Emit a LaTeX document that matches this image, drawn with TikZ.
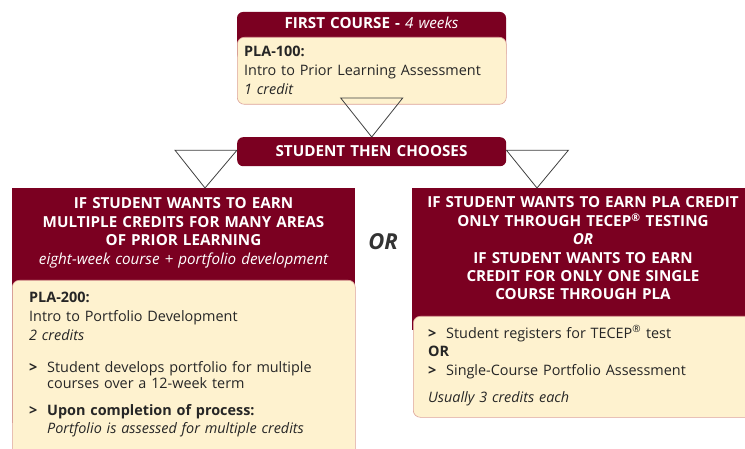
\documentclass[tikz,border=0pt]{standalone}
\usepackage{fontspec}
\setmainfont{Open Sans}
\usetikzlibrary{calc}
\usetikzlibrary{positioning}
\definecolor{maroon}{HTML}{7B0021}
\definecolor{cream}{HTML}{FEF2CF}
\definecolor{rosy}{HTML}{DDA39A}
\tikzset{
  headtext/.style={text=white, font=\fontsize{15.2}{18.4}\selectfont\bfseries, align=center, inner sep=0pt, text width=340pt, anchor=base},
  bodybox/.style={fill=cream, draw=rosy, line width=0.6pt, rounded corners=7pt, anchor=north west},
  bodytext/.style={font=\fontsize{14.4}{18.6}\selectfont, align=left, anchor=base west, inner sep=0pt, text width=320pt, text=black!85},
  chevron/.style={draw=black!75, line width=0.8pt, line join=miter}
}
\newcommand{\gt}{\makebox[18pt][l]{\textbf{>}}}

\begin{document}
\begin{tikzpicture}[x=1pt,y=-1pt]
  \clip (0,0) rectangle (745,449);
  \fill[white] (0,0) rectangle (745,449);

  % first course
  \fill[maroon, rounded corners=6pt] (237,12) rectangle (506,60);
  \node[bodybox, minimum width=269pt, minimum height=67pt] (pla100) at (237,37) {};
  \node[headtext] (firsthead) at (371.5,29) {FIRST COURSE - {\mdseries\itshape 4 weeks}};
  \node[bodytext] (pla100txt) at (244,57) {\textbf{PLA-100:}\\Intro to Prior Learning Assessment\\\textit{1 credit}};

  \node[fill=maroon, rounded corners=6pt, minimum width=269pt, minimum height=29pt, anchor=north west] (choose) at (237,137) {};
  \node[headtext] (choosetxt) at (371.5,157) {STUDENT THEN CHOOSES};

  % left branch
  \fill[maroon] (12,188) rectangle (355,423);
  \node[bodybox, minimum width=343pt, minimum height=200pt] (pla200) at (12,280) {};
  \node[headtext] (lefthead) at (183.5,209) {IF STUDENT WANTS TO EARN\\MULTIPLE CREDITS FOR MANY AREAS\\OF PRIOR LEARNING\\{\mdseries\itshape eight-week course + portfolio development}};
  \node[bodytext] (pla200txt) at (29,303) {\textbf{PLA-200:}\\Intro to Portfolio Development\\\textit{2 credits}};
  \node[bodytext, font=\fontsize{14.4}{16.6}\selectfont] (develop) at (29,372) {\gt Student develops portfolio for multiple\\\hspace*{18pt}courses over a 12-week term};
  \node[bodytext, font=\fontsize{14.4}{18.3}\selectfont] (assess) at (29,415) {\gt\textbf{Upon completion of process:}\\\hspace*{18pt}\textit{Portfolio is assessed for multiple credits}};

  \node[font=\fontsize{22}{22}\selectfont\itshape\bfseries, text=black!80] (or) at (383,242) {OR};

  % right branch
  \fill[maroon] (412,188) rectangle (760,330);
  \node[bodybox, minimum width=345pt, minimum height=101pt] (tecep) at (413,316) {};
  \node[headtext] (righthead) at (583,208) {IF STUDENT WANTS TO EARN PLA CREDIT\\ONLY THROUGH TECEP\textsuperscript{\textregistered} TESTING\\\textit{OR}\\IF STUDENT WANTS TO EARN\\CREDIT FOR ONLY ONE SINGLE\\COURSE THROUGH PLA};
  \node[bodytext] (tecepxt) at (428,338) {\gt Student registers for TECEP\textsuperscript{\textregistered} test\\\textbf{OR}\\\gt Single-Course Portfolio Assessment};
  \node[bodytext] (usually) at (428,402) {\textit{Usually 3 credits each}};

  % chevrons
  \draw[chevron] ($(choose.north)+(-31,-39)$) -- ($(choose.north)+(31,-39)$) -- (choose.north) -- cycle;
  \draw[chevron] ($(choose.west)+(-62,-1.5)$) -- ($(choose.west)+(0,-1.5)$) -- (205,188) -- cycle;
  \draw[chevron] ($(choose.east)+(0,-1.5)$) -- ($(choose.east)+(62,-1.5)$) -- (537,188) -- cycle;
\end{tikzpicture}
\end{document}
